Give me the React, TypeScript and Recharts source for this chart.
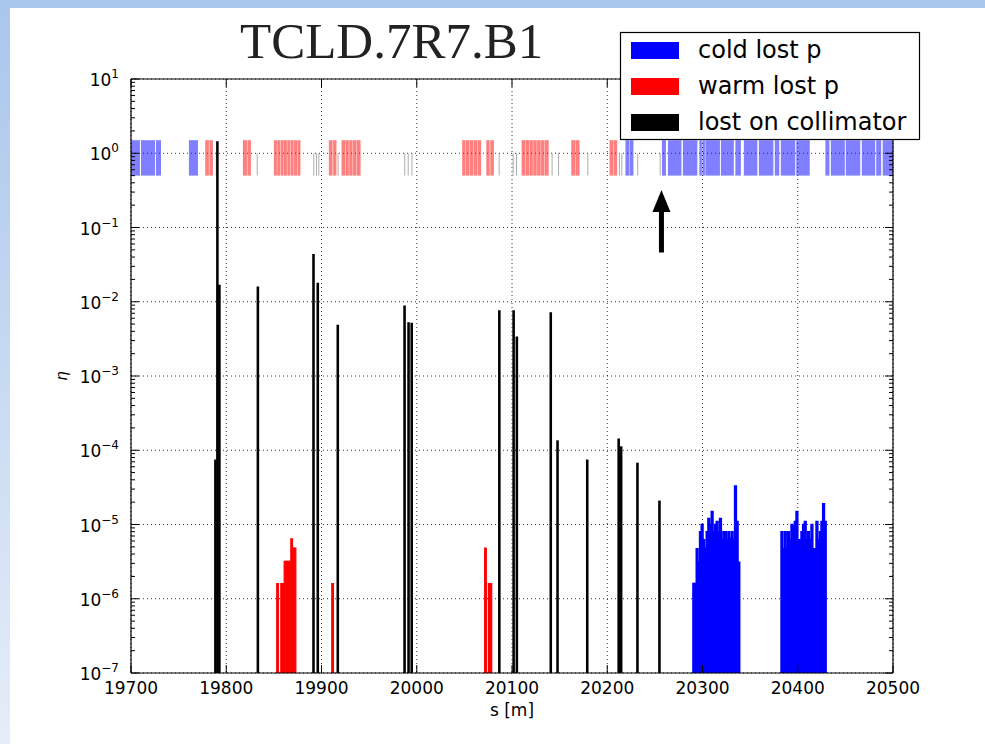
import { ComposedChart, XAxis, YAxis, CartesianGrid, ReferenceArea, ReferenceLine } from 'recharts'

const FONT = 'DejaVu Sans, sans-serif'

// axes
const S_TICKS = [19700, 19800, 19900, 20000, 20100, 20200, 20300, 20400, 20500]
const ETA_EXPONENTS = [-7, -6, -5, -4, -3, -2, -1, 0, 1]
const ETA_MAJOR = ETA_EXPONENTS.map(e => Math.pow(10, e))
const ETA_MINOR = ETA_EXPONENTS.slice(0, -1).flatMap(e => [2, 3, 4, 5, 6, 7, 8, 9].map(m => m * Math.pow(10, e)))
const ETA_TICKS = [...ETA_MAJOR, ...ETA_MINOR].sort((a, b) => a - b)
const MAJOR = new Set(ETA_MAJOR)

// lost on collimator (bar centres)
const collimatorS = [19788.6, 19790.7, 19792.8, 19833.2, 19891.6, 19896.1, 19917.1, 19987.2, 19991.4, 19994.7,
  20086.7, 20101.7, 20105.1, 20140.7, 20147.8, 20179.0, 20212.0, 20214.6, 20231.7, 20254.8]
const collimatorEta = [7.5e-5, 1.45, 1.7e-2, 1.6e-2, 4.4e-2, 1.8e-2, 4.9e-3, 8.9e-3, 5.3e-3, 5.2e-3,
  7.7e-3, 7.7e-3, 3.4e-3, 7.2e-3, 1.36e-4, 7.5e-5, 1.44e-4, 1.13e-4, 6.8e-5, 2.1e-5]

// warm lost p (bin left edges)
const warmLossS = [19853.0, 19857.3, 19859.05, 19860.8, 19862.55, 19864.3, 19866.05, 19867.8, 19869.55, 19871.3,
  19910.8, 20071.3, 20075.2, 20076.95]
const warmLossEta = [1.6e-6, 1.6e-6, 1.6e-6, 3.2e-6, 3.2e-6, 3.2e-6, 3.2e-6, 6.4e-6, 4.8e-6, 4.8e-6,
  1.6e-6, 4.8e-6, 1.6e-6, 1.6e-6]

// cold lost p (bin left edges)
const coldLossS = [
  20290.00, 20291.75, 20293.50, 20295.25, 20297.00, 20298.75, 20300.50, 20302.25, 20304.00, 20305.75,
  20307.50, 20309.25, 20311.00, 20312.75, 20314.50, 20316.25, 20318.00, 20319.75, 20321.50, 20323.25,
  20325.00, 20326.75, 20328.50, 20330.25, 20332.00, 20333.75, 20335.50, 20337.25,
  20382.50, 20384.25, 20386.00, 20387.75, 20389.50, 20391.25, 20393.00, 20394.75, 20396.50, 20398.25,
  20400.00, 20401.75, 20403.50, 20405.25, 20407.00, 20408.75, 20410.50, 20412.25, 20414.00, 20415.75,
  20417.50, 20419.25, 20421.00, 20422.75, 20424.50, 20426.25, 20428.00,
]
const coldLossEta = [
  1.6e-6, 1.6e-6, 4.7e-6, 3.1e-6, 8.0e-6, 1.0e-5, 6.2e-6, 4.8e-6, 8.0e-6, 1.2e-5,
  1.0e-5, 1.5e-5, 8.0e-6, 1.0e-5, 1.1e-5, 8.0e-6, 1.2e-5, 6.2e-6, 8.0e-6, 8.0e-6,
  6.2e-6, 8.0e-6, 6.5e-6, 8.0e-6, 6.2e-6, 3.3e-5, 1.1e-5, 3.1e-6,
  8.0e-6, 4.7e-6, 8.0e-6, 4.7e-6, 8.0e-6, 6.2e-6, 1.0e-5, 9.5e-6, 1.1e-5, 1.5e-5,
  6.2e-6, 6.2e-6, 8.0e-6, 1.0e-5, 1.1e-5, 6.2e-6, 8.0e-6, 6.2e-6, 1.0e-5, 4.7e-6,
  4.7e-6, 1.1e-5, 6.2e-6, 8.0e-6, 1.1e-5, 1.9e-5, 1.1e-5,
]

// lattice strip drawn around eta = 1
const coldElements: [number, number][] = [
  [19700.0, 19709.4], [19710.5, 19725.2], [19726.2, 19731.5], [19760.8, 19770.3],
  [20219.1, 20223.3], [20223.7, 20227.5], [20257.4, 20261.6], [20263.7, 20277.9], [20279.4, 20294.6],
  [20296.7, 20299.3], [20299.9, 20302.5], [20303.0, 20318.3], [20319.3, 20332.9], [20334.5, 20340.3],
  [20343.4, 20357.6], [20359.2, 20374.4], [20375.9, 20380.6], [20382.2, 20397.4], [20398.5, 20412.6],
  [20429.0, 20433.2], [20434.7, 20449.4], [20450.4, 20465.6], [20467.2, 20481.3], [20482.4, 20487.6],
  [20489.2, 20500.0],
]
const warmElements: [number, number][] = [
  [19777.9, 19781.8], [19782.3, 19786.0], [19817.5, 19821.7], [19822.2, 19825.9],
  [19850.0, 19853.2], [19853.5, 19856.7], [19857.1, 19860.2], [19860.5, 19863.7], [19864.1, 19867.3],
  [19867.7, 19870.8], [19871.2, 19874.3], [19874.7, 19877.9],
  [19907.7, 19911.6], [19912.2, 19915.7],
  [19921.0, 19924.7], [19925.1, 19928.7], [19929.1, 19932.7], [19933.1, 19936.8], [19937.2, 19941.0],
  [20047.7, 20051.3], [20051.7, 20055.3], [20055.7, 20059.3], [20059.7, 20063.4], [20063.8, 20067.6],
  [20073.0, 20076.6], [20077.2, 20081.0],
  [20110.1, 20113.8], [20114.2, 20117.9], [20118.3, 20121.9], [20122.3, 20126.0], [20126.4, 20130.1],
  [20130.5, 20134.1], [20134.5, 20138.5],
  [20162.2, 20166.3], [20166.7, 20170.9],
  [20202.4, 20206.2], [20206.6, 20210.4],
]
const otherElements = [19789.5, 19832.5, 19891.9, 19894.8, 19897.2, 19917.4, 19987.4, 19991.0, 19995.0,
  20086.5, 20101.2, 20104.8, 20142.1, 20148.9, 20179.6, 20212.8, 20215.3, 20232.0, 20255.5]

const legendItems = [
  { name: 'cold lost p', color: '#0000ff' },
  { name: 'warm lost p', color: '#ff0000' },
  { name: 'lost on collimator', color: '#000000' },
]

const arrowS = 20256.9
const arrowTail = 0.046
const arrowTip = 0.32

const BIN = 1.75
const COLL_W = 2.7
const ETA_MIN = 1e-7
const ETA_MAX = 10
const STRIP_LOW = 0.5
const STRIP_HIGH = 1.5
const OTHER_HIGH = 1.0

// rows so the s axis has data to work with
const chartRows = collimatorS.map((s, i) => ({ s, eta: collimatorEta[i] }))

const expText = (v: number) => {
  const e = Math.round(Math.log10(v))
  return e < 0 ? `\u2212${-e}` : `${e}`
}

function LeftEtaTick({ x, y, payload }: any) {
  const major = MAJOR.has(payload.value)
  return (
    <g>
      <line x1={x} x2={x + (major ? 8 : 4)} y1={y} y2={y} stroke="#000" />
      {major && (
        <text x={x - 12} y={y + 7} textAnchor="end" fontFamily={FONT} fontSize={17} fill="#000">
          10<tspan dy={-8} fontSize={12}>{expText(payload.value)}</tspan>
        </text>
      )}
    </g>
  )
}

function RightEtaTick({ x, y, payload }: any) {
  const major = MAJOR.has(payload.value)
  return <line x1={x} x2={x - (major ? 8 : 4)} y1={y} y2={y} stroke="#000" />
}

function BottomSTick({ x, y, payload }: any) {
  return (
    <g>
      <line x1={x} x2={x} y1={y} y2={y - 8} stroke="#000" />
      <text x={x} y={y + 21} textAnchor="middle" fontFamily={FONT} fontSize={17} fill="#000">
        {payload.value}
      </text>
    </g>
  )
}

function TopSTick({ x, y }: any) {
  return <line x1={x} x2={x} y1={y} y2={y + 8} stroke="#000" />
}

function Arrow({ x1, y1, y2 }: any) {
  const tip = Math.min(y1, y2)
  const tail = Math.max(y1, y2)
  const base = tip + 22
  const pts = [
    [x1 - 2.5, tail], [x1 - 2.5, base], [x1 - 9, base], [x1, tip],
    [x1 + 9, base], [x1 + 2.5, base], [x1 + 2.5, tail],
  ].map(p => p.join(',')).join(' ')
  return <polygon points={pts} fill="#000" />
}

export default function App() {
  return (
    <div style={{ position: 'absolute', left: 0, top: 0, width: 985, height: 744, background: 'linear-gradient(#a9c6ec, #e6edf8)' }}>
      <div style={{ position: 'absolute', left: 10, top: 8, right: 0, bottom: 0, background: '#fff' }} />
      <div style={{ position: 'absolute', left: 0, top: 0 }}>
        <ComposedChart width={985} height={744} data={chartRows} margin={{ top: 69, right: 82, bottom: 21, left: 56 }}>
          <CartesianGrid stroke="#000" strokeWidth={0.8} strokeDasharray="1 3" horizontalValues={ETA_MAJOR} verticalValues={S_TICKS} />
          <XAxis dataKey="s" type="number" domain={[19700, 20500]} allowDataOverflow ticks={S_TICKS} interval={0}
            height={50} tickSize={0} tickMargin={0} tickLine={false} tick={BottomSTick}
            axisLine={{ stroke: '#000', strokeWidth: 1.2 }}
            label={{ value: 's [m]', position: 'insideBottom', offset: 7, fill: '#000', fontSize: 17, fontFamily: FONT }} />
          <XAxis xAxisId="top" dataKey="s" orientation="top" type="number" domain={[19700, 20500]} allowDataOverflow ticks={S_TICKS}
            interval={0} height={10} tickSize={0} tickMargin={0} tickLine={false} tick={TopSTick}
            axisLine={{ stroke: '#000', strokeWidth: 1.2 }} />
          <YAxis dataKey="eta" type="number" scale="log" domain={[ETA_MIN, ETA_MAX]} allowDataOverflow ticks={ETA_TICKS} interval={0}
            width={75} tickSize={0} tickMargin={0} tickLine={false} tick={LeftEtaTick}
            axisLine={{ stroke: '#000', strokeWidth: 1.2 }}
            label={{ value: 'η', angle: -90, position: 'insideLeft', offset: 6, fill: '#000', fontSize: 15, fontFamily: FONT, fontStyle: 'italic', style: { textAnchor: 'middle' } }} />
          <YAxis yAxisId="right" dataKey="eta" orientation="right" type="number" scale="log" domain={[ETA_MIN, ETA_MAX]} allowDataOverflow
            ticks={ETA_TICKS} interval={0} width={10} tickSize={0} tickMargin={0} tickLine={false} tick={RightEtaTick}
            axisLine={{ stroke: '#000', strokeWidth: 1.2 }} />

          {coldElements.map(([a, b], i) => (
            <ReferenceArea key={`ce${i}`} x1={a} x2={b} y1={STRIP_LOW} y2={STRIP_HIGH} fill="#0000ff" fillOpacity={0.5} stroke="none" ifOverflow="hidden" />
          ))}
          {warmElements.map(([a, b], i) => (
            <ReferenceArea key={`we${i}`} x1={a} x2={b} y1={STRIP_LOW} y2={STRIP_HIGH} fill="#ff0000" fillOpacity={0.5} stroke="none" ifOverflow="hidden" />
          ))}
          {otherElements.map((s, i) => (
            <ReferenceArea key={`oe${i}`} x1={s - 0.5} x2={s + 0.5} y1={STRIP_LOW} y2={OTHER_HIGH} fill="#a8a8a8" fillOpacity={1} stroke="none" ifOverflow="hidden" />
          ))}

          {coldLossS.map((s, i) => (
            <ReferenceArea key={`cl${i}`} x1={s} x2={s + BIN} y1={ETA_MIN} y2={coldLossEta[i]} fill="#0000ff" fillOpacity={1} stroke="#0000ff" strokeOpacity={1} strokeWidth={1.6} ifOverflow="hidden" />
          ))}
          {warmLossS.map((s, i) => (
            <ReferenceArea key={`wl${i}`} x1={s} x2={s + BIN} y1={ETA_MIN} y2={warmLossEta[i]} fill="#ff0000" fillOpacity={1} stroke="#ff0000" strokeOpacity={1} strokeWidth={1.2} ifOverflow="hidden" />
          ))}
          {collimatorS.map((s, i) => (
            <ReferenceArea key={`co${i}`} x1={s - COLL_W / 2} x2={s + COLL_W / 2} y1={ETA_MIN} y2={collimatorEta[i]} fill="#000" fillOpacity={1} stroke="none" ifOverflow="hidden" />
          ))}

          <ReferenceLine segment={[{ x: arrowS, y: arrowTail }, { x: arrowS, y: arrowTip }]} shape={Arrow} ifOverflow="visible" />
        </ComposedChart>
      </div>
      <svg width={985} height={744} style={{ position: 'absolute', left: 0, top: 0, pointerEvents: 'none' }}>
        <text x={240} y={58} fontFamily="Liberation Serif, serif" fontSize={51} fill="#222">TCLD.7R7.B1</text>
        <g transform="translate(620,32)">
          <rect x={0.5} y={0.5} width={299} height={107} fill="#fff" stroke="#000" strokeWidth={1.2} />
          {legendItems.map((it, i) => (
            <g key={it.name} transform={`translate(0,${18 + i * 36})`}>
              <rect x={11} y={-8} width={48} height={17} fill={it.color} />
              <text x={78} y={8} fontFamily={FONT} fontSize={24} fill="#000">{it.name}</text>
            </g>
          ))}
        </g>
      </svg>
    </div>
  )
}
